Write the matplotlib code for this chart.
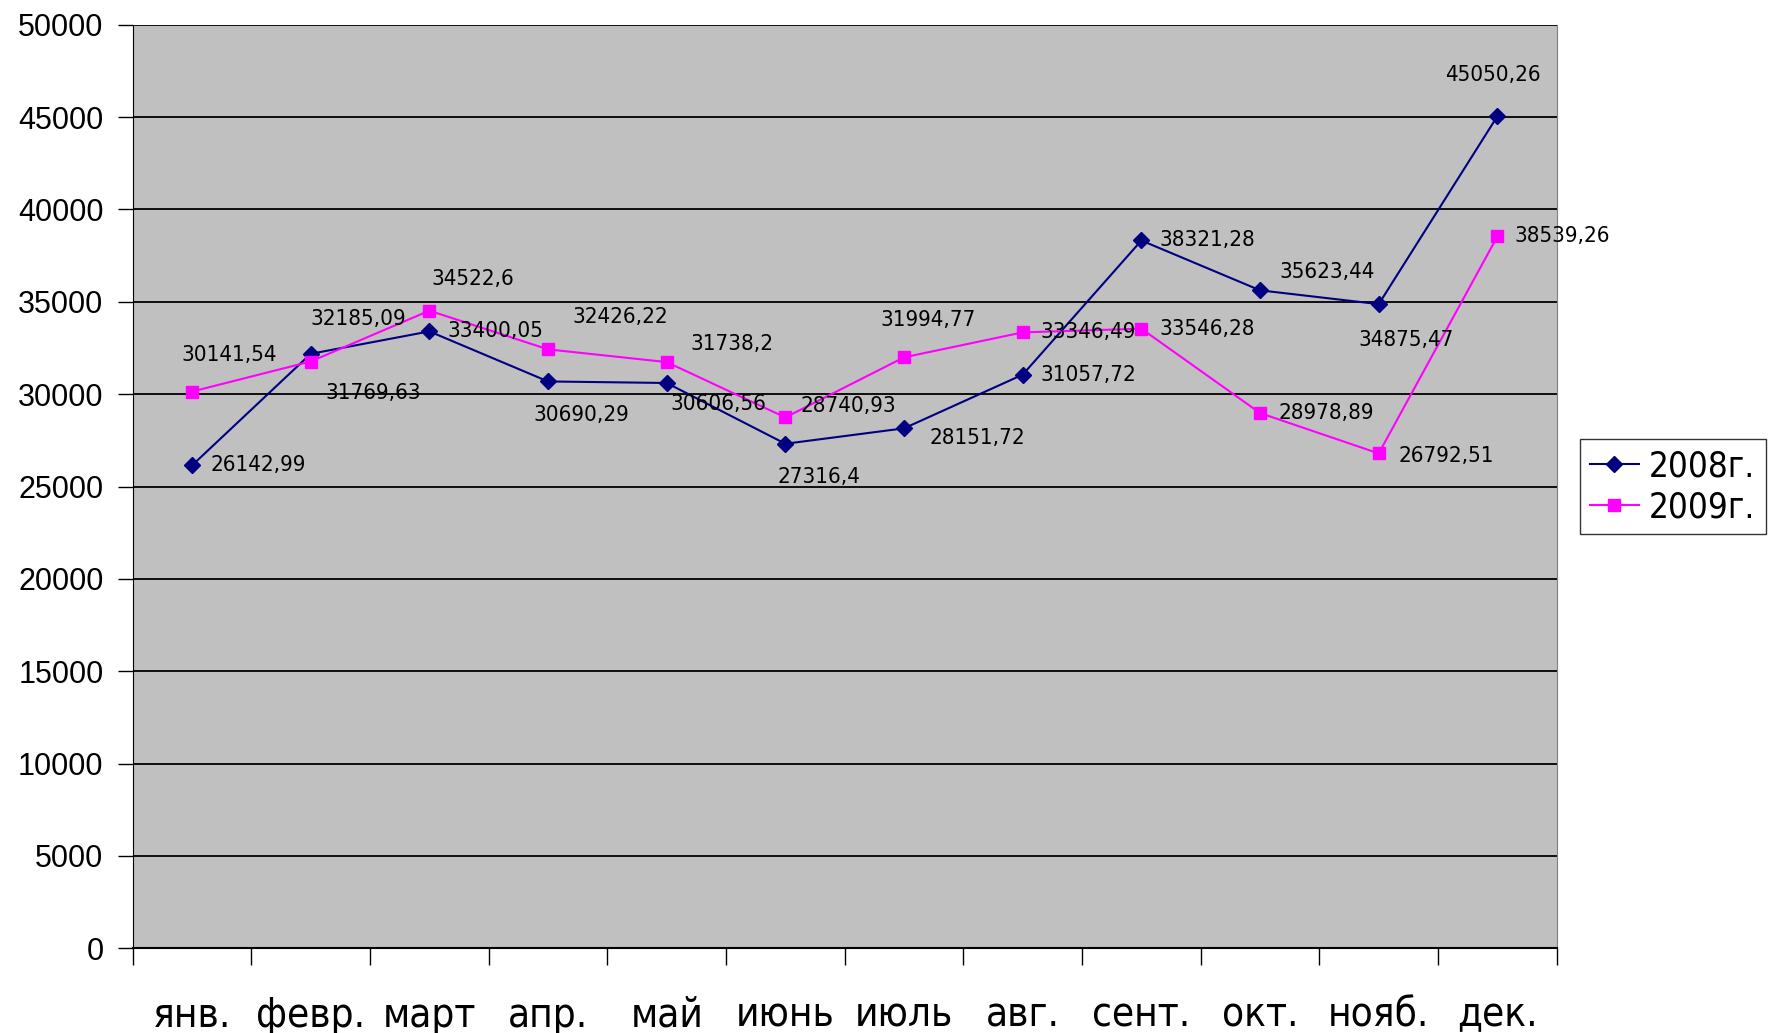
import numpy as np
import matplotlib.pyplot as plt
from matplotlib import font_manager as fm

months = ['янв.', 'февр.', 'март', 'апр.', 'май', 'июнь', 'июль', 'авг.', 'сент.', 'окт.', 'нояб.', 'дек.']
y2008 = [26142.99, 32185.09, 33400.05, 30690.29, 30606.56, 27316.4,
         28151.72, 31057.72, 38321.28, 35623.44, 34875.47, 45050.26]
y2009 = [30141.54, 31769.63, 34522.6, 32426.22, 31738.2, 28740.93,
         31994.77, 33346.49, 33546.28, 28978.89, 26792.51, 38539.26]
yticks = np.arange(0, 50001, 5000)

# label offsets (points) and alignment, one per point
off2008 = [(13, 0, 'left'), (34, 25, 'center'), (13, 0, 'left'), (24, -24, 'center'),
           (37, -15, 'center'), (24, -24, 'center'), (18, -7, 'left'), (13, 0, 'left'),
           (13, 0, 'left'), (14, 13, 'left'), (20, -26, 'center'), (-3, 30, 'center')]
off2009 = [(27, 26, 'center'), (45, -23, 'center'), (31, 23, 'center'), (52, 23, 'center'),
           (47, 13, 'center'), (11, 8, 'left'), (17, 27, 'center'), (13, 0, 'left'),
           (13, 0, 'left'), (13, 0, 'left'), (14, -2, 'left'), (12, 0, 'left')]

# look for a narrow font file (the original uses Arial Narrow-like text)
narrow_file = None
for key in ['liberationsansnarrow-regular', 'dejavusanscondensed.ttf', 'narrow', 'condensed']:
    for f in fm.fontManager.ttflist:
        base = f.fname.lower().split('/')[-1]
        if key in base and 'bold' not in base and 'italic' not in base and 'oblique' not in base:
            narrow_file = f.fname
            break
    if narrow_file:
        break

def nprop(size):
    if narrow_file:
        return fm.FontProperties(fname=narrow_file, size=size)
    return fm.FontProperties(family='DejaVu Sans', size=size * 0.8)

fig = plt.figure(figsize=(17.69, 10.33), dpi=100)
ax = fig.add_axes([0.075, 0.082, 0.805, 0.894])
ax.set_facecolor('#c0c0c0')

x = np.arange(len(months))
ax.plot(x, y2008, color='#000080', linewidth=1.5, marker='D', markersize=8, label='2008г.', zorder=3)
ax.plot(x, y2009, color='#ff00ff', linewidth=1.5, marker='s', markersize=9, label='2009г.', zorder=3)

def fmt(v):
    s = ('%.2f' % v).rstrip('0').rstrip('.')
    return s.replace('.', ',')

for ys, offs in [(y2008, off2008), (y2009, off2009)]:
    for xi, yi, (dx, dy, ha) in zip(x, ys, offs):
        ax.annotate(fmt(yi), (xi, yi), xytext=(dx, dy), textcoords='offset points',
                    ha=ha, va='center', fontproperties=nprop(16), color='black')

ax.set_xlim(-0.5, 11.5)
ax.set_ylim(0, 50000)
ax.set_yticks(yticks)
ax.set_yticklabels([str(v) for v in yticks], fontsize=22, family=['Liberation Sans', 'DejaVu Sans'])
ax.yaxis.grid(True, color='black', linewidth=1.3)
ax.set_axisbelow(True)

ax.set_xticks(np.arange(-0.5, 12, 1))
ax.set_xticklabels([])
ax.set_xticks(x, minor=True)
ax.set_xticklabels(months, minor=True)
for t in ax.get_xticklabels(minor=True):
    t.set_fontproperties(nprop(29))
ax.tick_params(axis='x', which='major', length=12, width=1, direction='out')
ax.tick_params(axis='x', which='minor', length=0, pad=34)
ax.tick_params(axis='y', length=11, width=1, pad=10)

ax.spines['left'].set_color('black')
ax.spines['bottom'].set_color('black')
ax.spines['bottom'].set_linewidth(1.5)
ax.spines['top'].set_visible(False)
ax.spines['right'].set_color('#808080')

leg = fig.legend(loc='center left', bbox_to_anchor=(0.893, 0.529),
                 prop=nprop(25), frameon=True, fancybox=False,
                 edgecolor='black', handlelength=1.4, handletextpad=0.3,
                 borderpad=0.3, labelspacing=0.2, borderaxespad=0)
leg.get_frame().set_linewidth(1)

fig.savefig('out.png', dpi=100)
